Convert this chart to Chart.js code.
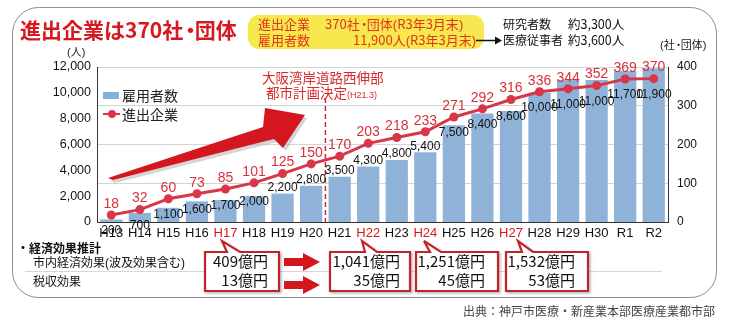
<!DOCTYPE html>
<html lang="ja">
<head>
<meta charset="utf-8">
<script src="https://cdn.jsdelivr.net/npm/chart.js@4.4.1/dist/chart.umd.min.js"></script>
<style>
  html, body { margin: 0; padding: 0; background: #fff; }
  #wrap { position: relative; width: 730px; height: 323px; overflow: hidden; font-family: "Noto Sans CJK JP", "Noto Sans", sans-serif; }
  #chart { position: absolute; left: 0; top: 0; }
  svg { position: absolute; left: 0; top: 0; }
  .t { position: absolute; white-space: nowrap; line-height: 1; }
  .dot { letter-spacing: -0.3em; margin-left: -0.15em; }
  .p { font-family: "Liberation Sans", sans-serif; }
</style>
</head>
<body>
<div id="wrap">
  <svg id="bg" width="730" height="323">
    <rect x="12.5" y="7.5" width="704" height="290" rx="26" fill="#fff" stroke="#8c8c8c" stroke-width="1"/>
    <rect x="248" y="15" width="236" height="34" rx="11" fill="#f6e84e"/>
    <line x1="25" y1="271.5" x2="662" y2="271.5" stroke="#d6d6d6" stroke-width="1"/>
  </svg>
  <canvas id="chart" width="730" height="323"></canvas>
  <svg id="fg" width="730" height="323">
    <defs>
      <filter id="sh" x="-10%" y="-10%" width="130%" height="130%">
        <feDropShadow dx="1.5" dy="1.5" stdDeviation="0.8" flood-color="#888" flood-opacity="0.6"/>
      </filter>
    </defs>
    <!-- big arrow -->
    <polygon points="110,181 266,131 271,111 307,118 286,151 277,142 115,183" fill="#b9b9b9" opacity="0.6"/>
    <polygon points="108,178 263,127 265,108 305,115 283,148 274,139 113,180" fill="#d4161f"/>
    <!-- small black arrow -->
    <line x1="476" y1="40.5" x2="496" y2="40.5" stroke="#111" stroke-width="1.5"/>
    <polygon points="495,36.5 502,40.5 495,44.5" fill="#111"/>
    <!-- red arrows between boxes -->
    <polygon points="284,258 303,258 303,253 320,262 303,271 303,266 284,266" fill="#d4161f"/>
    <polygon points="284,281 303,281 303,276 320,285 303,294 303,289 284,289" fill="#d4161f"/>
    <!-- callout boxes -->
    <g fill="#fff" stroke="#c3242c" stroke-width="2.2" stroke-linejoin="miter">
      <path d="M205,252 H227 L222,241 L240,252 H279 V291 H205 Z" filter="url(#sh)"/>
      <path d="M330,252 H365 L362,241 L377,252 H410 V291 H330 Z" filter="url(#sh)"/>
      <path d="M416,252 H430 L424,241 L441,252 H498 V291 H416 Z" filter="url(#sh)"/>
      <path d="M506,252 H522 L518,241 L533,252 H588 V291 H506 Z" filter="url(#sh)"/>
    </g>
  </svg>

  <div class="t" style="left:20px;top:19px;font-size:21px;font-weight:bold;color:#d7191f;">進出企業は370社<span class="dot">・</span>団体</div>

  <div class="t" style="left:258px;top:17px;font-size:13px;color:#e2341d;">進出企業</div>
  <div class="t" style="left:325px;top:17px;font-size:13px;color:#e2341d;">370社<span class="dot">・</span>団体<span class="p">(</span>R3年3月末<span class="p">)</span></div>
  <div class="t" style="left:258px;top:33px;font-size:13px;color:#e2341d;">雇用者数</div>
  <div class="t" style="right:254px;top:33px;font-size:13px;color:#e2341d;">11,900人<span class="p">(</span>R3年3月末<span class="p">)</span></div>

  <div class="t" style="left:503px;top:18px;font-size:12px;color:#111;">研究者数</div>
  <div class="t" style="left:568px;top:18px;font-size:12.5px;color:#111;">約3,300人</div>
  <div class="t" style="left:503px;top:34px;font-size:12px;color:#111;">医療従事者</div>
  <div class="t" style="left:568px;top:34px;font-size:12.5px;color:#111;">約3,600人</div>

  <div class="t" style="left:67px;top:46px;font-size:11px;color:#222;"><span class="p">(</span>人<span class="p">)</span></div>
  <div class="t" style="left:660px;top:39px;font-size:11px;color:#222;"><span class="p">(</span>社<span class="dot">・</span>団体<span class="p">)</span></div>

  <!-- legend -->
  <div style="position:absolute;left:103px;top:92px;width:16px;height:7px;background:#7fb2de;"></div>
  <div class="t" style="left:122px;top:88px;font-size:14px;color:#222;">雇用者数</div>
  <div style="position:absolute;left:103px;top:113px;width:17px;height:2px;background:#d9364a;"></div>
  <div style="position:absolute;left:108px;top:110px;width:8px;height:8px;border-radius:50%;background:#d9364a;"></div>
  <div class="t" style="left:122px;top:107px;font-size:14px;color:#222;">進出企業</div>

  <!-- annotation -->
  <div class="t" style="left:262px;top:71px;font-size:13.5px;color:#d42a2a;">大阪湾岸道路西伸部</div>
  <div class="t" style="left:266px;top:86px;font-size:13.5px;color:#d42a2a;">都市計画決定<span style="font-size:9px;font-family:'Liberation Sans',sans-serif;">(H21.3)</span></div>

  <!-- economic effect table -->
  <div class="t" style="left:17px;top:242px;font-size:12px;font-weight:bold;color:#111;">・経済効果推計</div>
  <div class="t" style="left:33px;top:256px;font-size:12px;color:#111;">市内経済効果<span class="p">(</span>波及効果含む<span class="p">)</span></div>
  <div class="t" style="left:33px;top:275px;font-size:12px;color:#111;">税収効果</div>

  <div class="t" style="right:462px;top:253px;font-size:15px;color:#111;">409億円</div>
  <div class="t" style="right:462px;top:272px;font-size:15px;color:#111;">13億円</div>
  <div class="t" style="right:330px;top:253px;font-size:15px;color:#111;">1,041億円</div>
  <div class="t" style="right:330px;top:272px;font-size:15px;color:#111;">35億円</div>
  <div class="t" style="right:245px;top:253px;font-size:15px;color:#111;">1,251億円</div>
  <div class="t" style="right:245px;top:272px;font-size:15px;color:#111;">45億円</div>
  <div class="t" style="right:155px;top:253px;font-size:15px;color:#111;">1,532億円</div>
  <div class="t" style="right:155px;top:272px;font-size:15px;color:#111;">53億円</div>

  <div class="t" style="right:15px;top:305px;font-size:12px;color:#444;">出典：神戸市医療・新産業本部医療産業都市部</div>
</div>

<script>
const years = ['H13','H14','H15','H16','H17','H18','H19','H20','H21','H22','H23','H24','H25','H26','H27','H28','H29','H30','R1','R2'];
const employees = [200,700,1100,1600,1700,2000,2200,2800,3500,4300,4800,5400,7500,8400,8600,10000,11000,11000,11700,11900];
const companies = [18,32,60,73,85,101,125,150,170,203,218,233,271,292,316,336,344,352,369,370];
const redYears = ['H17','H22','H24','H27'];
const planYear = 'H21';

const red = '#d9364a';
const barBlue = '#8fb3d8';
const narrow = "'Liberation Sans Narrow', 'Arial Narrow', 'Liberation Sans', sans-serif";

Chart.defaults.font.family = "'Liberation Sans', Arial, sans-serif";

const labelPlugin = {
    id: 'labels',
    afterDatasetsDraw(chart) {
        const ctx = chart.ctx;
        const lineMeta = chart.getDatasetMeta(0);
        const barMeta = chart.getDatasetMeta(1);
        const xs = chart.scales.x;
        const area = chart.chartArea;

        // dashed line between H20 and H21
        const k = years.indexOf(planYear);
        const dx = (xs.getPixelForValue(k - 1) + xs.getPixelForValue(k)) / 2;
        ctx.save();
        ctx.strokeStyle = '#d42a2a';
        ctx.lineWidth = 1.5;
        ctx.setLineDash([5, 3]);
        ctx.beginPath();
        ctx.moveTo(dx, 98);
        ctx.lineTo(dx, area.bottom);
        ctx.stroke();
        ctx.setLineDash([]);

        ctx.textAlign = 'center';
        ctx.textBaseline = 'middle';
        ctx.font = `12px ${narrow}`;
        ctx.fillStyle = '#111';
        barMeta.data.forEach((bar, i) => {
            const py = lineMeta.data[i].y;
            let y = bar.y - 6;
            // move the label inside the bar when the line marker sits on it
            if (py > y - 14) y = Math.max(bar.y + 6, py + 16);
            ctx.fillText(employees[i].toLocaleString('en-US'), bar.x, y);
        });

        ctx.font = `14px ${narrow}`;
        ctx.fillStyle = '#d7303a';
        lineMeta.data.forEach((pt, i) => {
            ctx.fillText(companies[i], pt.x, pt.y - 11);
        });
        ctx.restore();
    }
};

new Chart(document.getElementById('chart'), {
    type: 'bar',
    data: {
        labels: years,
        datasets: [
            {
                type: 'line',
                label: '進出企業',
                data: companies,
                yAxisID: 'y1',
                borderColor: red,
                backgroundColor: red,
                borderWidth: 3,
                pointRadius: 4.5,
                pointBackgroundColor: red,
                pointBorderWidth: 0,
                order: 0
            },
            {
                type: 'bar',
                label: '雇用者数',
                data: employees,
                yAxisID: 'y',
                backgroundColor: barBlue,
                barPercentage: 0.78,
                categoryPercentage: 1,
                order: 1
            }
        ]
    },
    options: {
        responsive: false,
        animation: false,
        devicePixelRatio: 1,
        layout: { padding: { top: 67, bottom: 83, left: 0, right: 0 } },
        plugins: { legend: { display: false }, tooltip: { enabled: false } },
        scales: {
            x: {
                grid: { display: false, drawTicks: false },
                border: { color: '#333', width: 1 },
                ticks: {
                    padding: 4,
                    maxRotation: 0,
                    autoSkip: false,
                    font: { size: 13, family: narrow },
                    color: (c) => redYears.includes(years[c.index]) ? '#d7191f' : '#111'
                },
                afterFit: (s) => { s.height = 18; }
            },
            y: {
                position: 'left',
                min: 0,
                max: 12000,
                ticks: {
                    stepSize: 2000,
                    padding: 6,
                    color: '#111',
                    font: { size: 12.5 },
                    callback: (v) => v.toLocaleString('en-US')
                },
                grid: { display: false, drawTicks: false },
                border: { color: '#333', width: 1 },
                afterFit: (s) => { s.width = 97; }
            },
            y1: {
                position: 'right',
                min: 0,
                max: 400,
                ticks: { stepSize: 100, padding: 9, color: '#111', font: { size: 12 } },
                grid: { color: '#d4d4d4', drawTicks: false, drawOnChartArea: true },
                border: { color: '#333', width: 1 },
                afterFit: (s) => { s.width = 62; }
            }
        }
    },
    plugins: [labelPlugin]
});
</script>
</body>
</html>
